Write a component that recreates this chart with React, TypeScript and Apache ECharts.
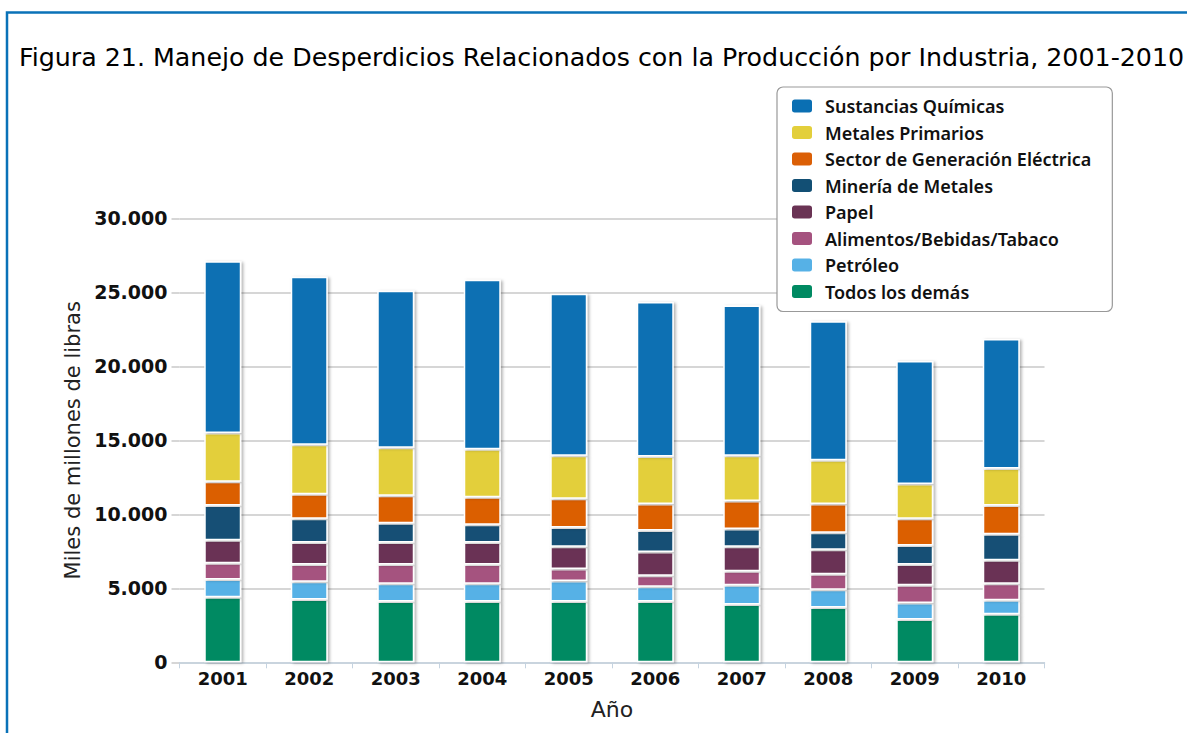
import React, { useEffect, useRef } from "react";
import * as echarts from "echarts";

const years = ["2001", "2002", "2003", "2004", "2005", "2006", "2007", "2008", "2009", "2010"];
const todosLosDemas = [4400, 4250, 4100, 4100, 4100, 4100, 3900, 3700, 2900, 3250];
const petroleo = [1200, 1200, 1200, 1200, 1400, 1000, 1300, 1200, 1100, 950];
const alimentos = [1100, 1150, 1300, 1300, 800, 750, 950, 1050, 1200, 1100];
const papel = [1550, 1500, 1500, 1500, 1500, 1600, 1650, 1650, 1400, 1600];
const mineria = [2350, 1600, 1300, 1200, 1300, 1450, 1200, 1150, 1300, 1750];
const sectorElectrico = [1600, 1650, 1850, 1850, 1950, 1800, 1900, 1950, 1800, 1950];
const metalesPrimarios = [3300, 3350, 3250, 3250, 2900, 3200, 3050, 2950, 2350, 2500];
const sustanciasQuimicas = [11600, 11350, 10600, 11450, 10950, 10450, 10150, 9400, 8300, 8750];

const seriesNames = [
  "Todos los demás",
  "Petróleo",
  "Alimentos/Bebidas/Tabaco",
  "Papel",
  "Minería de Metales",
  "Sector de Generación Eléctrica",
  "Metales Primarios",
  "Sustancias Químicas",
];
const seriesData = [todosLosDemas, petroleo, alimentos, papel, mineria, sectorElectrico, metalesPrimarios, sustanciasQuimicas];
const seriesColors = ["#008a62", "#56b1e6", "#a5527f", "#6a3354", "#124f74", "#db5f06", "#e3cf3b", "#0a6fb3"];

const title = "Figura 21. Manejo de Desperdicios Relacionados con la Producción por Industria, 2001-2010";

function fmt(v: number) {
  return String(v).replace(/\B(?=(\d{3})+(?!\d))/g, ".");
}

export default function App() {
  const ref = useRef<HTMLDivElement>(null);
  useEffect(() => {
    if (!ref.current) return;
    const chart = echarts.init(ref.current, undefined, { renderer: "svg" });
    chart.setOption({
      animation: false,
      backgroundColor: "#ffffff",
      title: {
        text: title,
        left: 14,
        top: 39.5,
        textStyle: { fontFamily: "DejaVu Sans", fontSize: 25.3, fontWeight: "normal", color: "#000" },
      },
      graphic: [
        {
          type: "polyline",
          shape: { points: [[7, 733], [7, 12.5], [1187, 12.5]] },
          style: { stroke: "#0a72b8", lineWidth: 2.5, fill: "none" },
          silent: true,
        },
      ],
      legend: {
        data: seriesNames.slice().reverse(),
        orient: "vertical",
        left: 777,
        top: 87,
        icon: "roundRect",
        itemWidth: 22,
        itemHeight: 15,
        itemGap: 8.5,
        padding: [10, 21, 11, 13],
        backgroundColor: "#fff",
        borderColor: "#999",
        borderWidth: 1.2,
        borderRadius: 6,
        selectedMode: false,
        textStyle: {
          fontFamily: "Noto Sans",
          fontSize: 18,
          fontWeight: 600,
          color: "#111",
          padding: [0, 0, 0, 7],
        },
      },
      grid: { left: 179.5, right: 142.5, top: 218.3, bottom: 70.7, containLabel: false },
      xAxis: {
        type: "category",
        data: years,
        name: "Año",
        nameLocation: "middle",
        nameGap: 36,
        nameTextStyle: { fontFamily: "DejaVu Sans", fontSize: 22, color: "#222" },
        axisLine: { lineStyle: { color: "#c5d3e0", width: 1.5 } },
        axisTick: { show: true, length: 6, lineStyle: { color: "#c5d3e0" } },
        axisLabel: { fontFamily: "DejaVu Sans", fontSize: 18, fontWeight: "bold", color: "#111", margin: 7 },
      },
      yAxis: {
        type: "value",
        min: 0,
        max: 30000,
        interval: 5000,
        name: "Miles de millones de libras",
        nameLocation: "middle",
        nameGap: 88,
        nameTextStyle: { fontFamily: "DejaVu Sans", fontSize: 21, color: "#222" },
        axisLine: { show: false },
        axisTick: { show: true, length: 8, lineStyle: { color: "#c8c8c8", width: 1.5 } },
        axisLabel: {
          fontFamily: "DejaVu Sans",
          fontSize: 19,
          fontWeight: "bold",
          color: "#111",
          margin: 12,
          formatter: (v: number) => fmt(v),
        },
        splitLine: { lineStyle: { color: "#c8c8c8", width: 1.5 } },
      },
      series: seriesNames.map((name, i) => ({
        name,
        type: "bar",
        stack: "total",
        barWidth: 37,
        data: seriesData[i],
        itemStyle: {
          color: seriesColors[i],
          borderColor: "#ffffff",
          borderWidth: 1.5,
          shadowColor: "rgba(0,0,0,0.3)",
          shadowBlur: 3,
          shadowOffsetX: 2,
          shadowOffsetY: 1,
        },
        emphasis: { disabled: true },
      })),
    });
    return () => chart.dispose();
  }, []);
  return (
    <div
      ref={ref}
      style={{ position: "absolute", left: 0, top: 0, width: 1187, height: 733 }}
    />
  );
}
